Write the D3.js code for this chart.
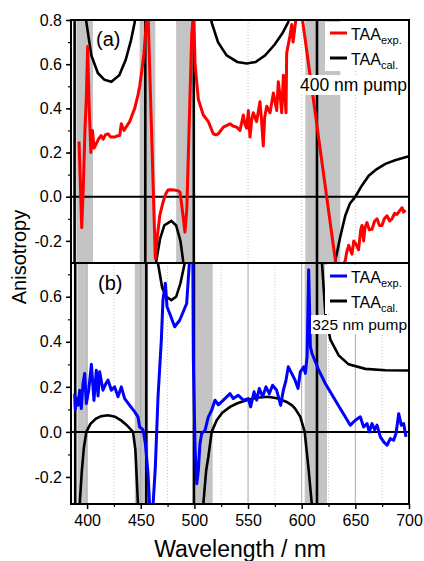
<!DOCTYPE html>
<html>
<head>
<meta charset="utf-8">
<script src="https://cdn.jsdelivr.net/npm/d3@7"></script>
<style>
  body { margin: 0; background: #fff; }
  svg text { font-family: "Liberation Sans", Arial, sans-serif; fill: #000; }
</style>
</head>
<body>
<svg id="chart" width="424" height="561"></svg>
<script>
// ---- data (wavelength in nm, anisotropy) ----
var xTicks = [400, 450, 500, 550, 600, 650, 700];
var xMinor = [425, 475, 525, 575, 625, 675];
var yTicksA = [-0.2, 0, 0.2, 0.4, 0.6, 0.8];
var yTicksB = [-0.2, 0, 0.2, 0.4, 0.6];

// shaded wavelength windows
var bandsA = [[390, 405.5], [449, 463.6], [483, 500.5], [603.4, 636]];
var bandsB = [[391, 400.2], [444.4, 457], [499, 517], [602.8, 623.6]];

// (a) 400 nm pump, experimental
var expA = [
  [392.5, 0.25], [395, -0.14], [396.5, 0.05], [398, 0.30], [399.3, 0.45], [400.5, 0.68],
  [402, 0.40], [403.5, 0.20], [405, 0.30], [406.5, 0.22], [408.6, 0.24], [410.5, 0.26],
  [413, 0.277], [415, 0.26], [417, 0.28], [419.5, 0.285], [422, 0.27], [425.7, 0.27],
  [428, 0.275], [430.4, 0.277], [431.9, 0.33], [434.4, 0.30], [437, 0.32], [439.7, 0.34],
  [442, 0.37], [444.4, 0.40], [447.4, 0.46], [449, 0.50], [451, 0.57], [453, 0.65],
  [455.2, 0.79], [456, 0.83], [457, 0.80], [463.6, -0.28], [465, -0.20], [467.7, -0.086],
  [470.7, -0.026], [473, 0.01], [475.4, 0.03], [478, 0.032], [481.6, 0.03], [484.7, 0.027],
  [486.6, 0.02], [488, -0.03], [491.2, -0.16], [493, -0.05], [495, 0.30], [497.5, 0.73],
  [499.3, 0.85], [500.6, 0.60], [503.7, 0.44], [508.3, 0.37], [513, 0.34], [517.6, 0.285],
  [520, 0.28], [522.3, 0.285], [527, 0.315], [533.2, 0.33], [536, 0.32], [539.4, 0.315],
  [542.5, 0.30], [545.6, 0.37], [547, 0.33], [548.7, 0.31], [550.3, 0.39], [551.8, 0.27],
  [553.5, 0.35], [554.9, 0.38], [558, 0.34], [561.1, 0.43], [562.5, 0.35], [564.2, 0.23],
  [565.5, 0.36], [567.4, 0.41], [570.5, 0.38], [573.6, 0.47], [576.7, 0.39], [578.2, 0.52],
  [580, 0.45], [581.4, 0.38], [582.9, 0.55], [585.4, 0.38], [586, 0.65], [589.1, 0.73],
  [590.7, 0.78], [592, 0.70], [594, 0.78], [596, 0.85], [600.2, 0.82], [632, -0.31],
  [636, -0.33], [640.6, -0.29], [642, -0.25], [643.8, -0.22], [646.9, -0.26], [648.5, -0.20],
  [650, -0.21], [653, -0.24], [655, -0.15], [656.2, -0.13], [657.7, -0.20], [659, -0.14],
  [660.9, -0.117], [663, -0.15], [665.5, -0.147], [668, -0.11], [670.2, -0.10], [672.5, -0.13],
  [674.8, -0.13], [677, -0.10], [679.5, -0.086], [682, -0.11], [684.2, -0.10], [686.5, -0.075],
  [688.8, -0.08], [691, -0.065], [693.5, -0.05], [695, -0.07], [696.6, -0.06]
];

// (a) calculated (poles run off the panel)
var calA = [
  [385, -2], [388.3, -8], [388.4, 8], [395, 1.5], [399.3, 0.79], [404, 0.64], [410, 0.56],
  [416, 0.53], [422.6, 0.52], [430, 0.55], [436, 0.62], [441, 0.71], [444.4, 0.79], [448, 1.3],
  [454.2, 8], [454.3, -8], [460, -1], [464.5, -0.29], [468, -0.19], [472, -0.13], [478.5, -0.109],
  [483, -0.13], [487, -0.20], [489.5, -0.29], [494, -1], [499.4, -8], [499.5, 8], [510, 1.2],
  [516, 0.79], [522, 0.70], [530, 0.64], [540, 0.61], [548.7, 0.603], [557, 0.61], [566, 0.64],
  [575, 0.69], [582, 0.74], [587.5, 0.79], [600, 1.5], [614.2, 8], [614.3, -8], [625, -1],
  [631.3, -0.29], [636, -0.18], [640.6, -0.086], [645, -0.03], [650, 0.0], [656, 0.05],
  [662.5, 0.095], [670, 0.125], [678, 0.149], [687, 0.165], [696.6, 0.179], [700, 0.183]
];

// (b) 325 nm pump, experimental
var expB = [
  [388.4, 0.17], [389, 0.10], [390, 0.15], [391.5, 0.118], [393.1, 0.185], [394.6, 0.104],
  [396.2, 0.215], [397.8, 0.26], [399.3, 0.126], [401.5, 0.185], [404, 0.30], [406.4, 0.14],
  [408.6, 0.274], [410.2, 0.16], [411.7, 0.267], [414.8, 0.185], [417, 0.21], [419.5, 0.23],
  [422.6, 0.185], [425.7, 0.20], [428.8, 0.156], [431.9, 0.20], [435, 0.148], [439.7, 0.118],
  [444.4, 0.089], [447.4, 0.067], [449, 0.022], [452.1, 0.01], [454.3, -0.052], [456.8, -0.185],
  [458.3, -0.33], [461.4, -0.33], [463.6, -0.155], [466.1, 0.156], [469.2, 0.41], [470.7, 0.585],
  [472.9, 0.66], [474.5, 0.556], [477, 0.526], [481.6, 0.467], [486.3, 0.496], [492.8, 0.57],
  [495.3, 0.75], [496.5, 0.80], [498.5, 0.80], [499, 0.33], [500.6, -0.067], [502.2, -0.23],
  [503.7, -0.17], [505.2, -0.052], [506.8, -0.007], [509.9, 0.007], [513, 0.067], [516.1, 0.096],
  [519.2, 0.141], [522.3, 0.12], [527, 0.141], [533.2, 0.17], [536.3, 0.148], [540.9, 0.163],
  [545.6, 0.141], [550.3, 0.148], [552.4, 0.111], [555.6, 0.178], [558, 0.141], [560.5, 0.193],
  [563.6, 0.156], [566.7, 0.20], [569.8, 0.17], [572.9, 0.207], [576.7, 0.185], [580.4, 0.118],
  [582.9, 0.185], [585.4, 0.23], [587.5, 0.289], [590.7, 0.26], [593.8, 0.23], [596.6, 0.193],
  [598.7, 0.267], [601.9, 0.289], [603.4, 0.26], [605, 0.333], [606.5, 0.72], [608.1, 0.378],
  [609.6, 0.348], [615.9, 0.274], [622, 0.215], [631.3, 0.141], [645.3, 0.03], [650, 0.052],
  [654.6, 0.067], [657.7, 0.022], [660.9, 0.037], [663, 0.0], [665.5, 0.037], [668, 0.01],
  [670.2, 0.03], [673.3, -0.022], [676.4, -0.044], [679.5, -0.059], [682.6, -0.03], [685.7, -0.037],
  [687.9, -0.007], [690.4, 0.081], [692.8, 0.03], [695, 0.037], [697.2, -0.022]
];

// (b) calculated
var calB = [
  [385, 2], [388.9, 8], [389, -8], [393, -0.33], [395, -0.18], [397, -0.07], [399.3, 0.0],
  [403, 0.035], [408, 0.058], [413, 0.07], [419.5, 0.074], [426, 0.068], [432, 0.05], [437, 0.03],
  [442.8, 0.0], [445, -0.08], [447.4, -0.32], [451, -1.5], [455.1, -8], [455.2, 8], [462, 1.2],
  [466, 0.75], [470, 0.64], [474, 0.60], [478.5, 0.585], [483, 0.60], [487, 0.66], [491, 0.75],
  [495, 1.2], [499.5, 8], [499.6, -8], [504, -1.2], [508.3, -0.32], [511, -0.17], [513, -0.11],
  [516.1, 0.0], [520.8, 0.052], [526, 0.085], [533.2, 0.111], [540, 0.127], [548.7, 0.141],
  [558, 0.152], [568.9, 0.156], [578, 0.148], [586, 0.133], [591, 0.118], [593.8, 0.104],
  [598.7, 0.067], [602.8, 0.0], [606.5, -0.17], [609.6, -0.33], [612, -1.2], [614.2, -8],
  [614.3, 8], [617, 1.2], [618.9, 0.75], [622, 0.526], [626.7, 0.41], [634.5, 0.34], [643.8, 0.30],
  [659.3, 0.28], [678, 0.274], [700, 0.273]
];

// ---- layout ----
var svg = d3.select("#chart");
var left = 71, right = 409, topA = 20, mid = 263, bottomB = 504;

var x = d3.scaleLinear().domain([385, 700]).range([left, right]);
var yA = d3.scaleLinear().domain([-0.3, 0.8]).range([mid, topA]);
var yB = d3.scaleLinear().domain([-0.32, 0.75]).range([bottomB, mid]);

var fmt = function(d){ return d.toFixed(1); };

function panel(id, y, bands, cal, exp, color, yTicks, gridSolid) {
  var y0 = y.range()[1], y1 = y.range()[0];
  var g = svg.append("g");

  g.append("clipPath").attr("id", "clip" + id)
    .append("rect").attr("x", left).attr("y", y0).attr("width", right - left).attr("height", y1 - y0);

  var body = g.append("g").attr("clip-path", "url(#clip" + id + ")");

  body.selectAll("rect.band").data(bands).enter().append("rect")
    .attr("class", "band")
    .attr("x", function(d){ return x(d[0]); })
    .attr("width", function(d){ return x(d[1]) - x(d[0]); })
    .attr("y", y0).attr("height", y1 - y0)
    .attr("fill", "#c4c4c4");

  // vertical grid
  if (gridSolid) {
    body.selectAll("line.gmaj").data(xTicks).enter().append("line")
      .attr("x1", x).attr("x2", x).attr("y1", y0).attr("y2", y1)
      .attr("stroke", "#a8a8a8").attr("stroke-width", 1);
    body.selectAll("line.gmin").data(xMinor).enter().append("line")
      .attr("x1", x).attr("x2", x).attr("y1", y0).attr("y2", y1)
      .attr("stroke", "#c8c8c8").attr("stroke-width", 1).attr("stroke-dasharray", "1,2");
  } else {
    body.selectAll("line.gmaj").data(xTicks).enter().append("line")
      .attr("x1", x).attr("x2", x).attr("y1", y0).attr("y2", y1)
      .attr("stroke", "#c0c0c0").attr("stroke-width", 1).attr("stroke-dasharray", "1,2");
  }

  body.append("line")
    .attr("x1", left).attr("x2", right).attr("y1", y(0)).attr("y2", y(0))
    .attr("stroke", "#000").attr("stroke-width", 2);

  var line = d3.line().x(function(d){ return x(d[0]); }).y(function(d){ return y(d[1]); });

  body.append("path").datum(cal).attr("d", line)
    .attr("fill", "none").attr("stroke", "#000").attr("stroke-width", 2.6);
  body.append("path").datum(exp).attr("d", line)
    .attr("fill", "none").attr("stroke", color).attr("stroke-width", 3).attr("stroke-linejoin", "round");

  // y axis
  var ax = g.append("g").attr("transform", "translate(" + left + ",0)")
    .call(d3.axisLeft(y).tickValues(yTicks).tickFormat(fmt).tickSize(5).tickPadding(4));
  ax.select(".domain").remove();
  ax.selectAll("text").style("font-size", "16px");
  ax.selectAll("line").attr("stroke-width", 1.5);

  var minor = d3.range(-3, 8).map(function(i){ return i / 10 + 0.1; })
    .filter(function(v){ return v > y.domain()[0] && v < y.domain()[1] + 0.001; });
  var am = g.append("g").attr("transform", "translate(" + left + ",0)")
    .call(d3.axisLeft(y).tickValues(minor).tickFormat("").tickSize(3));
  am.select(".domain").remove();
  am.selectAll("line").attr("stroke-width", 1.2);

  g.append("rect").attr("x", left).attr("y", y0).attr("width", right - left).attr("height", y1 - y0)
    .attr("fill", "none").attr("stroke", "#000").attr("stroke-width", 2);
  return g;
}

var gA = panel("A", yA, bandsA, calA, expA, "#ff0000", yTicksA, false);
var gB = panel("B", yB, bandsB, calB, expB, "#0000ff", yTicksB, true);

function legend(g, y, color, pumpText, pumpSize, pumpX, pumpBox) {
  var ly = y.range()[1];
  g.append("rect").attr("x", 325).attr("y", ly + 2).attr("width", 83).attr("height", 49).attr("fill", "#fff");
  g.append("rect").attr("x", pumpBox[0]).attr("y", ly + pumpBox[1]).attr("width", 408 - pumpBox[0])
    .attr("height", pumpBox[2]).attr("fill", "#fff");
  var rows = [{c: color, s: "exp.", dy: 13}, {c: "#000", s: "cal.", dy: 38}];
  rows.forEach(function(r){
    g.append("line").attr("x1", 330).attr("x2", 347).attr("y1", ly + r.dy).attr("y2", ly + r.dy)
      .attr("stroke", r.c).attr("stroke-width", 3);
    var t = g.append("text").attr("x", 351).attr("y", ly + r.dy + 7).style("font-size", "16px");
    t.append("tspan").text("TAA");
    t.append("tspan").attr("dy", 4).style("font-size", "11px").text(r.s);
  });
  g.append("text").attr("x", 407).attr("y", ly + pumpBox[1] + pumpBox[2] - 4)
    .attr("text-anchor", "end").style("font-size", pumpSize).text(pumpText);
}
legend(gA, yA, "#ff0000", "400 nm pump", "17.5px", 300, [298, 55, 20]);
legend(gB, yB, "#0000ff", "325 nm pump", "15.5px", 312, [311, 52, 19]);

svg.append("text").attr("x", 96).attr("y", 46).style("font-size", "20px").text("(a)");
svg.append("text").attr("x", 98).attr("y", 290).style("font-size", "20px").text("(b)");

// x axis
var xa = svg.append("g").attr("transform", "translate(0," + bottomB + ")")
  .call(d3.axisBottom(x).tickValues(xTicks).tickSize(5).tickPadding(6));
xa.select(".domain").remove();
xa.selectAll("text").style("font-size", "16px");
xa.selectAll("line").attr("stroke-width", 1.5);
var xm = svg.append("g").attr("transform", "translate(0," + bottomB + ")")
  .call(d3.axisBottom(x).tickValues(xMinor).tickFormat("").tickSize(3));
xm.select(".domain").remove();
xm.selectAll("line").attr("stroke-width", 1.2);

svg.append("text").attr("x", 240).attr("y", 557).attr("text-anchor", "middle")
  .style("font-size", "23px").text("Wavelength / nm");
svg.append("text").attr("transform", "translate(26,257) rotate(-90)").attr("text-anchor", "middle")
  .style("font-size", "20px").text("Anisotropy");
</script>
</body>
</html>
